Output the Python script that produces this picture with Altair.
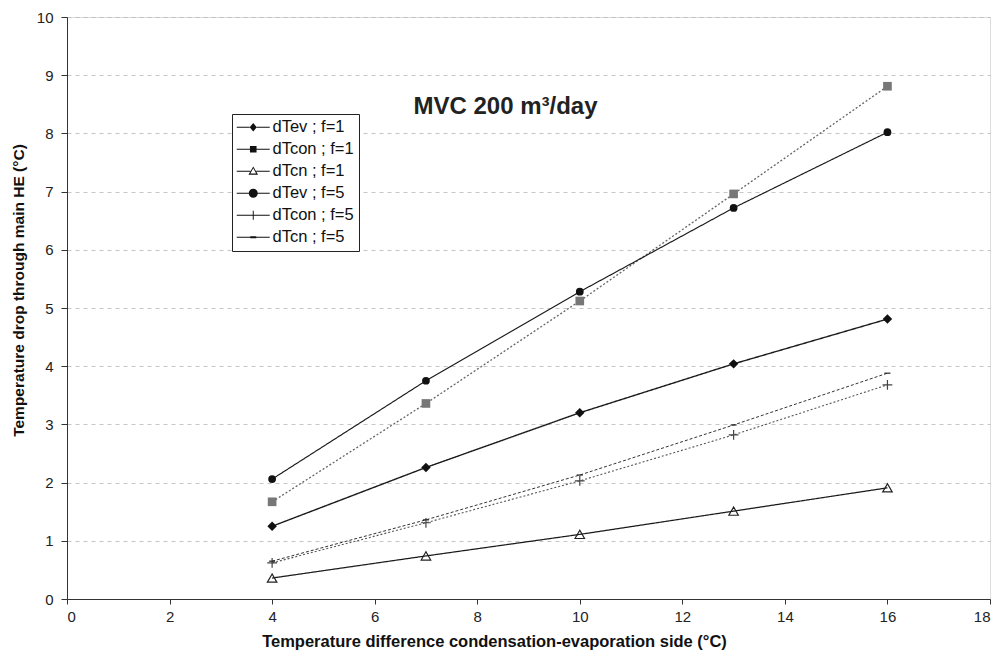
import altair as alt
import pandas as pd

series = ["dTev ; f=1", "dTcon ; f=1", "dTcn ; f=1", "dTev ; f=5", "dTcon ; f=5", "dTcn ; f=5"]
x_vals = [4, 7, 10, 13, 16]
dTev_f1 = [1.25, 2.26, 3.20, 4.04, 4.81]
dTcon_f1 = [1.67, 3.36, 5.12, 6.96, 8.81]
dTcn_f1 = [0.36, 0.74, 1.11, 1.51, 1.91]
dTev_f5 = [2.06, 3.75, 5.28, 6.72, 8.02]
dTcon_f5 = [0.62, 1.31, 2.03, 2.82, 3.68]
dTcn_f5 = [0.65, 1.36, 2.13, 2.99, 3.88]
all_vals = [dTev_f1, dTcon_f1, dTcn_f1, dTev_f5, dTcon_f5, dTcn_f5]

x_ticks = list(range(0, 19, 2))
y_ticks = list(range(0, 11))

rows = []
for s, vals in zip(series, all_vals):
    for xv, yv in zip(x_vals, vals):
        rows.append({"series": s, "x": xv, "y": yv})
df = pd.DataFrame(rows)

FONT = "Liberation Sans"

line_colors = ["#1a1a1a", "#666666", "#1a1a1a", "#1a1a1a", "#555555", "#333333"]
line_dash = [[1, 0], [2, 2], [1, 0], [1, 0], [2, 2], [3, 2]]
line_width = [1.4, 1.0, 1.4, 1.4, 1.0, 1.0]

x_enc = alt.X("x:Q", scale=alt.Scale(domain=[0, 18], nice=False, zero=True),
              axis=alt.Axis(values=x_ticks, format="d",
                            title="Temperature difference condensation-evaporation side (°C)",
                            grid=False, tickSize=5, labelPadding=5, titlePadding=9,
                            titleX=427, titleAlign="center",
                            labelFontSize=15, titleFontSize=16.5, titleFontWeight="bold",
                            labelFont=FONT, titleFont=FONT, labelColor="#222", titleColor="#111",
                            domainColor="#333", tickColor="#333"))
y_enc = alt.Y("y:Q", scale=alt.Scale(domain=[0, 10], nice=False),
              axis=alt.Axis(values=y_ticks, format="d", title="Temperature drop through main HE (°C)",
                            grid=True, gridDash=[4, 4], gridColor="#b8b8b8", gridWidth=0.8,
                            tickSize=6, labelPadding=8, titlePadding=10,
                            titleY=273, titleAlign="center",
                            labelFontSize=15, titleFontSize=15.5, titleFontWeight="bold",
                            labelFont=FONT, titleFont=FONT, labelColor="#222", titleColor="#111",
                            domainColor="#333", tickColor="#333"))

lines = alt.Chart(df).mark_line().encode(
    x=x_enc, y=y_enc,
    color=alt.Color("series:N", scale=alt.Scale(domain=series, range=line_colors), legend=None),
    strokeDash=alt.StrokeDash("series:N", scale=alt.Scale(domain=series, range=line_dash), legend=None),
    strokeWidth=alt.StrokeWidth("series:N", scale=alt.Scale(domain=series, range=line_width), legend=None),
    detail="series:N",
)

filled_series = ["dTev ; f=1", "dTcon ; f=1", "dTev ; f=5"]
filled_shapes = ["diamond", "square", "circle"]
filled_colors = ["#111111", "#777777", "#111111"]
filled_sizes = [90, 60, 100]

filled_pts = alt.Chart(df).transform_filter(
    alt.FieldOneOfPredicate(field="series", oneOf=filled_series)
).mark_point(filled=True, opacity=1).encode(
    x="x:Q", y="y:Q",
    shape=alt.Shape("series:N", scale=alt.Scale(domain=filled_series, range=filled_shapes), legend=None),
    fill=alt.Fill("series:N", scale=alt.Scale(domain=filled_series, range=filled_colors), legend=None),
    size=alt.Size("series:N", scale=alt.Scale(domain=filled_series, range=filled_sizes), legend=None),
)

open_series = ["dTcn ; f=1", "dTcon ; f=5", "dTcn ; f=5"]
open_shapes = ["triangle-up", "M0,-1V1M-1,0H1", "M-0.6,0H0.6"]
open_colors = ["#222222", "#444444", "#222222"]
open_sizes = [90, 100, 100]

open_pts = alt.Chart(df).transform_filter(
    alt.FieldOneOfPredicate(field="series", oneOf=open_series)
).mark_point(filled=False, opacity=1, strokeWidth=1.2).encode(
    x="x:Q", y="y:Q",
    shape=alt.Shape("series:N", scale=alt.Scale(domain=open_series, range=open_shapes), legend=None),
    stroke=alt.Stroke("series:N", scale=alt.Scale(domain=open_series, range=open_colors), legend=None),
    size=alt.Size("series:N", scale=alt.Scale(domain=open_series, range=open_sizes), legend=None),
)


def seg(a, b):
    return f"M{a},-0.1H{b}V0.1H{a}Z"


full = seg(-2.75, 2.75)
legend_paths = [
    seg(-2.75, -0.6) + seg(0.6, 2.75) + "M0,-0.7L0.6,0L0,0.7L-0.6,0Z",
    seg(-2.75, -0.55) + seg(0.55, 2.75) + "M-0.55,-0.55H0.55V0.55H-0.55Z",
    seg(-2.75, -0.5) + seg(0.5, 2.75) + "M0,-0.8L0.8,0.6L-0.8,0.6ZM0,-0.5L-0.48,0.36L0.48,0.36Z",
    seg(-2.75, -0.7) + seg(0.7, 2.75) + "M-0.75,0A0.75,0.75 0 1,1 0.75,0A0.75,0.75 0 1,1 -0.75,0Z",
    full + "M-0.08,-0.75H0.08V0.75H-0.08Z",
    seg(-2.75, -0.5) + seg(0.5, 2.75) + "M-0.5,-0.18H0.5V0.18H-0.5Z",
]

legend_layer = alt.Chart(df).transform_filter("false").mark_point(filled=True, color="#111", opacity=1).encode(
    x="x:Q", y="y:Q",
    shape=alt.Shape("series:N", scale=alt.Scale(domain=series, range=legend_paths),
                    legend=alt.Legend(title=None, orient="none", legendX=165, legendY=97,
                                      symbolSize=144, symbolOffset=8, labelOffset=11,
                                      symbolFillColor="#111",
                                      labelFont=FONT, labelFontSize=16.5, labelColor="#111",
                                      labelLimit=300, rowPadding=5, padding=5,
                                      strokeColor="#222", fillColor="white")),
)

chart = alt.layer(lines, filled_pts, open_pts, legend_layer).resolve_scale(
    shape="independent", size="independent"
).properties(
    width=923, height=582,
    title=alt.TitleParams("MVC 200 m³/day", fontSize=24, fontWeight="bold", font=FONT,
                          color="#222", anchor="middle", dx=-23, dy=128, offset=0,
                          baseline="alphabetic"),
    autosize=alt.AutoSizeParams(type="none"),
    padding={"left": 67, "top": 17, "right": 6, "bottom": 57},
).configure_view(stroke="#999", strokeWidth=0.8).configure(background="white")

chart.save("out.html", embed_options={"renderer": "svg", "actions": False})
